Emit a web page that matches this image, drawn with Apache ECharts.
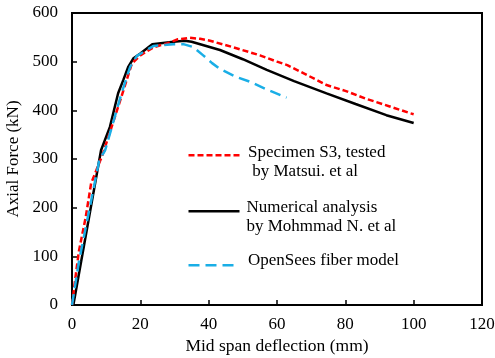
<!DOCTYPE html>
<html>
<head>
<meta charset="utf-8">
<script src="https://cdn.jsdelivr.net/npm/echarts@6/dist/echarts.min.js"></script>
<style>html,body{margin:0;padding:0;background:#fff}#c{width:495px;height:358px}</style>
</head>
<body>
<div id="c"></div>
<script>
var xTicks = [0, 20, 40, 60, 80, 100, 120];
var yTicks = [0, 100, 200, 300, 400, 500, 600];
var seriesNames = ['Specimen S3, tested\n by Matsui. et al', 'Numerical analysis\nby Mohmmad N. et al', 'OpenSees fiber model'];
var specimenS3 = [[0,0],[0.7,40],[2,110],[4,180],[5.6,250],[9,310],[13.5,407],[16,462],[17.5,496],[20,513],[24,530],[28,538],[31,546],[34.5,549],[37.5,547],[40.4,543],[47,530],[55,513],[60,500],[63,493],[67,479],[74.5,452],[80,440],[86,424],[93,408],[99,394],[100,392]];
var numerical = [[0.4,0],[8.5,318],[11.1,366],[13.5,435],[15,462],[16.5,490],[18,507],[20,517],[23.5,536],[29.7,541],[33,543],[35,541],[43.3,524],[50,505],[57,483],[65,460],[74.5,435],[83,413],[92,390],[100,374]];
var openSees = [[0,0],[2.1,92],[8,298],[9.7,318],[14.5,435],[17,489],[19,512],[23.8,532],[29.6,536],[32.6,536],[35.5,530],[38.4,513],[41,497],[43.3,485],[48,469],[52,459],[57,443],[62.8,426]];

var font = 'Liberation Serif';
var chart = echarts.init(document.getElementById('c'));
var legendLineY = [154, 210, 264];
var legendTextTop = [142.5, 197.5, 251];
var legendTextLeft = [248, 246.5, 248];
var legendColors = ['#ff0000', '#000000', '#1aaee6'];
var legendDash = [[6,3], null, [11,6]];
var graphics = [];
for (var i = 0; i < 3; i++) {
  graphics.push({
    type: 'line', left: 186, top: legendLineY[i] - 1.25,
    shape: {x1: 0, y1: 0, x2: 51, y2: 0},
    style: {stroke: legendColors[i], lineWidth: 2.5, lineDash: legendDash[i]}
  });
  graphics.push({
    type: 'text', left: legendTextLeft[i], top: legendTextTop[i],
    style: {text: seriesNames[i], font: '17px "' + font + '"', fill: '#000', lineHeight: 19.5}
  });
}
chart.setOption({
  animation: false,
  grid: {left: 72, right: 13, top: 13, bottom: 53, show: true, borderColor: '#000', borderWidth: 2,
         containLabel: false, outerBoundsMode: 'none'},
  xAxis: {
    type: 'value', min: 0, max: 120, interval: 20,
    name: 'Mid span deflection (mm)', nameLocation: 'middle', nameGap: 30,
    nameTextStyle: {fontFamily: font, fontSize: 17.5, color: '#000'},
    axisLine: {lineStyle: {color: '#000', width: 2}},
    axisTick: {inside: true, length: 5, lineStyle: {color: '#000', width: 1.5}},
    axisLabel: {fontFamily: font, fontSize: 17, color: '#000', margin: 11},
    splitLine: {show: false}
  },
  yAxis: {
    type: 'value', min: 0, max: 600, interval: 100,
    name: 'Axial Force (kN)', nameLocation: 'middle', nameGap: 41,
    nameTextStyle: {fontFamily: font, fontSize: 17, color: '#000'},
    axisLine: {show: true, lineStyle: {color: '#000', width: 2}},
    axisTick: {show: true, inside: true, length: 5, lineStyle: {color: '#000', width: 1.5}},
    axisLabel: {fontFamily: font, fontSize: 17, color: '#000', margin: 14},
    splitLine: {show: false}
  },
  series: [
    {name: seriesNames[0], type: 'line', data: specimenS3, showSymbol: false, symbol: 'none', z: 3,
     lineStyle: {color: legendColors[0], width: 2.5, type: [6,3]}},
    {name: seriesNames[1], type: 'line', data: numerical, showSymbol: false, symbol: 'none', z: 2,
     lineStyle: {color: legendColors[1], width: 2.5}},
    {name: seriesNames[2], type: 'line', data: openSees, showSymbol: false, symbol: 'none', z: 4,
     lineStyle: {color: legendColors[2], width: 2.5, type: [11,6]}}
  ],
  graphic: graphics
});
</script>
</body>
</html>
